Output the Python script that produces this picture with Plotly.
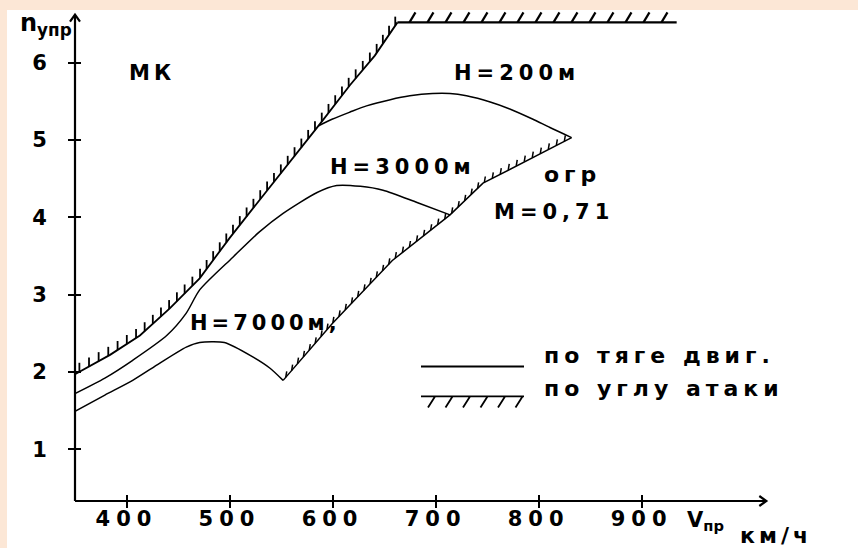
import numpy as np
import plotly.graph_objects as go

# Permitted normal load factor n_y vs indicated airspeed V (km/h)
# Angle-of-attack limit (hatched boundary on the left)
aoa_v = [350, 384, 413, 442, 471, 500, 529, 559, 588, 617, 641, 663]
aoa_n = [1.97, 2.22, 2.47, 2.82, 3.21, 3.73, 4.22, 4.72, 5.21, 5.71, 6.09, 6.52]

# Structural limit (horizontal hatched line at the top)
nmax_v = [663, 934]
nmax_n = [6.52, 6.52]

# Thrust-limited curves for three altitudes
h200_v = [586, 600, 617, 633, 656, 675, 697, 714, 730, 753, 772, 794, 811, 832]
h200_n = [5.18, 5.27, 5.36, 5.44, 5.52, 5.57, 5.60, 5.60, 5.57, 5.49, 5.40, 5.27, 5.16, 5.03]

h3000_v = [350, 379, 406, 439, 458, 471, 503, 529, 552, 585, 604, 627, 649, 682, 714]
h3000_n = [1.72, 1.92, 2.15, 2.47, 2.76, 3.06, 3.48, 3.81, 4.05, 4.32, 4.41, 4.40, 4.35, 4.19, 4.03]

h7000_v = [350, 379, 406, 432, 458, 471, 495, 523, 539, 552]
h7000_n = [1.49, 1.70, 1.89, 2.11, 2.32, 2.38, 2.38, 2.19, 2.05, 1.89]

# Mach limit M=0.71 (hatched)
mach_v = [552, 600, 658, 714, 746, 779, 832]
mach_n = [1.89, 2.63, 3.44, 4.03, 4.44, 4.67, 5.03]

X_TICKS = [400, 500, 600, 700, 800, 900]
Y_TICKS = [1, 2, 3, 4, 5, 6]

# ---- layout geometry ----
W, H = 858, 548
ML, MR, MT, MB = 75, 0, 10, 47
PW, PH = W - ML - MR, H - MT - MB
X_RANGE = [350, 1110]
Y_RANGE = [0.33, 6.68]
SX = PW / (X_RANGE[1] - X_RANGE[0])
SY = PH / (Y_RANGE[1] - Y_RANGE[0])
X_ARROW_END = 1021
Y_ARROW_END = 6.62

INK = "black"
BAND = "#FCE7D6"
FONT = "DejaVu Sans"


def px(x):
    return (x - ML) / PW


def py(y):
    return (H - MB - y) / PH


def spaced(text, ls):
    return f'<b><span style="letter-spacing:{ls}px">{text}</span></b>'


def hatch(xs, ys, step, dx, dy, offset):
    """Short strokes along a polyline; dx, dy are screen pixels (dy>0 is down)."""
    qx = (np.asarray(xs, float) - X_RANGE[0]) * SX
    qy = -(np.asarray(ys, float) - Y_RANGE[0]) * SY
    cum = np.concatenate([[0.0], np.cumsum(np.hypot(np.diff(qx), np.diff(qy)))])
    s = np.arange(offset, cum[-1] + 1e-6, step)
    ax, ay = np.interp(s, cum, qx), np.interp(s, cum, qy)
    hx, hy = [], []
    for a, b in zip(ax, ay):
        hx += [a / SX + X_RANGE[0], (a + dx) / SX + X_RANGE[0], None]
        hy += [-b / SY + Y_RANGE[0], -(b + dy) / SY + Y_RANGE[0], None]
    return hx, hy


fig = go.Figure()

thin = dict(color=INK, width=1.5)
smooth = dict(color=INK, width=1.5, shape="spline", smoothing=0.7)

for xs, ys in [(h200_v, h200_n), (h3000_v, h3000_n), (h7000_v, h7000_n)]:
    fig.add_trace(go.Scatter(x=xs, y=ys, mode="lines", line=smooth, hoverinfo="skip"))

fig.add_trace(go.Scatter(x=aoa_v, y=aoa_n, mode="lines", line=dict(color=INK, width=1.8), hoverinfo="skip"))
fig.add_trace(go.Scatter(x=nmax_v, y=nmax_n, mode="lines", line=dict(color=INK, width=2.4), hoverinfo="skip"))
fig.add_trace(go.Scatter(x=mach_v, y=mach_n, mode="lines", line=thin, hoverinfo="skip"))

for xs, ys, step, dx, dy, off, lw in [
    (aoa_v, aoa_n, 11, 0, -9, 5, 1.8),
    (nmax_v, nmax_n, 18, 6, -10, 12, 2.2),
    (mach_v, mach_n, 9, 1, -6, 4, 1.5),
]:
    hx, hy = hatch(xs, ys, step, dx, dy, off)
    fig.add_trace(go.Scatter(x=hx, y=hy, mode="lines", line=dict(color=INK, width=lw),
                             xaxis="x2", yaxis="y2", hoverinfo="skip"))

shapes = [
    # page border bands
    dict(type="rect", xref="paper", yref="paper", x0=px(0), x1=px(W), y0=py(MT), y1=py(0),
         fillcolor=BAND, line_width=0, layer="above"),
    dict(type="rect", xref="paper", yref="paper", x0=px(0), x1=px(7), y0=py(H), y1=py(0),
         fillcolor=BAND, line_width=0, layer="above"),
    # axes with arrow heads
    dict(type="line", xref="x", yref="paper", x0=X_RANGE[0], x1=X_ARROW_END, y0=0, y1=0,
         line=dict(color=INK, width=2.2)),
    dict(type="path", xref="x", yref="paper", xsizemode="pixel", ysizemode="pixel",
         xanchor=X_ARROW_END, yanchor=0, path="M-7,-5L0,0L-7,5", line=dict(color=INK, width=2.2)),
    dict(type="line", xref="paper", yref="y", x0=0, x1=0, y0=Y_RANGE[0], y1=Y_ARROW_END,
         line=dict(color=INK, width=2.2)),
    dict(type="path", xref="paper", yref="y", xsizemode="pixel", ysizemode="pixel",
         xanchor=0, yanchor=Y_ARROW_END, path="M-5,-7L0,0L5,-7", line=dict(color=INK, width=2.2)),
]

# legend samples
LEG_X0, LEG_X1 = 421, 524
LEG_Y1, LEG_Y2 = 366.5, 396.4
shapes.append(dict(type="line", xref="paper", yref="paper", x0=px(LEG_X0), x1=px(LEG_X1),
                   y0=py(LEG_Y1), y1=py(LEG_Y1), line=dict(color=INK, width=1.8)))
leg_path = f"M0,0L{LEG_X1 - LEG_X0},0"
for k in range(6):
    t = 14 + 17.5 * k
    leg_path += f"M{t:.1f},0L{t - 7:.1f},-11"
shapes.append(dict(type="path", xref="paper", yref="paper", xsizemode="pixel", ysizemode="pixel",
                   xanchor=px(LEG_X0), yanchor=py(LEG_Y2), path=leg_path,
                   line=dict(color=INK, width=1.8)))

labels = [
    ("МК", 127, 73, 21, 4),
    ("H=200м", 452, 73, 21, 5),
    ("H=3000м", 328, 167, 21, 5),
    ("огр", 542, 174, 22, 5),
    ("M=0,71", 492, 212, 21, 5),
    ("H=7000м,", 188, 323, 21, 4),
    ("по тяге двиг.", 542, 355, 22, 5),
    ("по углу атаки", 542, 389, 22, 5),
    ("км/ч", 738, 535, 22, 4),
]
annotations = []
for text, x, y, size, ls in labels:
    annotations.append(dict(text=spaced(text, ls), x=px(x), y=py(y), xref="paper", yref="paper",
                            xanchor="left", yanchor="middle", showarrow=False,
                            font=dict(family=FONT, size=size, color=INK, weight="bold")))
annotations.append(dict(text="<b>n<sub>yпр</sub></b>", x=px(18), y=py(24), xref="paper", yref="paper",
                        xanchor="left", yanchor="middle", showarrow=False,
                        font=dict(family=FONT, size=24, color=INK, weight="bold")))
annotations.append(dict(text="<b>V<sub>пр</sub></b>", x=px(685), y=py(521), xref="paper", yref="paper",
                        xanchor="left", yanchor="middle", showarrow=False,
                        font=dict(family=FONT, size=21, color=INK, weight="bold")))

tick_font = dict(family=FONT, size=21, color=INK, weight="bold")
common = dict(showgrid=False, zeroline=False, showline=False, tickcolor=INK, tickwidth=2, ticklen=6)

fig.update_layout(
    width=W, height=H,
    margin=dict(l=ML, r=MR, t=MT, b=MB, pad=0),
    paper_bgcolor="white", plot_bgcolor="white",
    showlegend=False, hovermode=False,
    xaxis=dict(range=X_RANGE, tickvals=X_TICKS, ticktext=[spaced(str(v), 6) for v in X_TICKS],
               ticks="outside", tickfont=tick_font, ticklabelstandoff=-7, **common),
    yaxis=dict(range=Y_RANGE, tickvals=Y_TICKS, ticktext=[f"<b>{v}</b>" for v in Y_TICKS],
               ticks="outside", tickfont=tick_font, ticklabelstandoff=17, **common),
    xaxis2=dict(range=X_RANGE, overlaying="x", anchor="y2", side="bottom", tickvals=X_TICKS,
                ticks="inside", showticklabels=False, **common),
    yaxis2=dict(range=Y_RANGE, overlaying="y", anchor="x2", side="left", tickvals=Y_TICKS,
                ticks="inside", showticklabels=False, **common),
    shapes=shapes,
    annotations=annotations,
)

fig.write_html("out.html", config={"displayModeBar": False})
